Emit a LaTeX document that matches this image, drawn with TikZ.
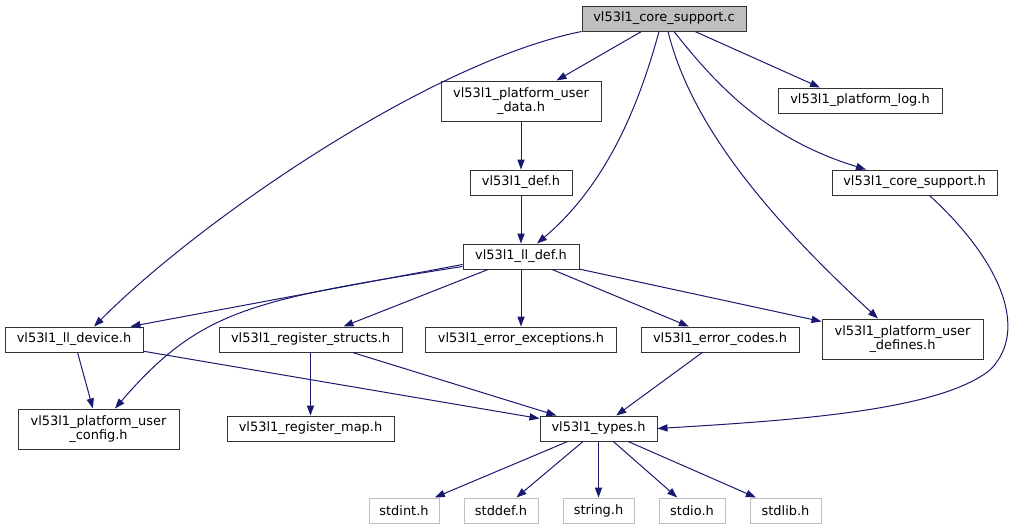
\documentclass[tikz,border=0pt]{standalone}
\usepackage{fontspec}
\setmainfont{DejaVu Sans}
\usetikzlibrary{calc,arrows.meta,positioning}
\definecolor{edgeblue}{RGB}{25,25,112}
\begin{document}
\begin{tikzpicture}[x=0.75pt,y=-0.75pt,
  file/.style={draw=black!80,line width=0.75pt,inner sep=0pt,minimum height=18.75pt,align=center,font=\fontsize{9.7}{10.8}\selectfont},
  sysfile/.style={file,draw=gray!50},
  dep/.style={draw=edgeblue,line width=0.75pt,-{Triangle[length=7.5pt,width=5.4pt]}}]
\useasboundingbox (0,0) rectangle (1014,529);
\node[file,fill=gray!50,minimum width=123pt] (corec) at (664,18.5) {vl53l1\_core\_support.c};
\node[file,minimum width=120pt,minimum height=30pt] (pudata) at (521,101) {vl53l1\_platform\_user\\\_data.h};
\node[file,minimum width=76.5pt] (def) at (521,182.5) {vl53l1\_def.h};
\node[file,minimum width=87pt] (lldef) at (521,256.5) {vl53l1\_ll\_def.h};
\node[file,minimum width=123pt] (plog) at (860,100.5) {vl53l1\_platform\_log.h};
\node[file,minimum width=123.75pt] (coreh) at (914.5,182.5) {vl53l1\_core\_support.h};
\node[file,minimum width=103.5pt] (lldev) at (74,339.5) {vl53l1\_ll\_device.h};
\node[file,minimum width=137.25pt] (regstr) at (310.5,339.5) {vl53l1\_register\_structs.h};
\node[file,minimum width=143.25pt] (errexc) at (521,339.5) {vl53l1\_error\_exceptions.h};
\node[file,minimum width=118.5pt] (errcod) at (720,339.5) {vl53l1\_error\_codes.h};
\node[file,minimum width=120.75pt,minimum height=30pt] (pudef) at (902.5,339) {vl53l1\_platform\_user\\\_defines.h};
\node[file,minimum width=120.75pt,minimum height=30pt] (puconf) at (98.5,429) {vl53l1\_platform\_user\\\_config.h};
\node[file,minimum width=125.25pt] (regmap) at (310.5,428.5) {vl53l1\_register\_map.h};
\node[file,minimum width=87.75pt] (types) at (598.5,428.5) {vl53l1\_types.h};
\node[sysfile,minimum width=52.5pt] (stdint) at (404,510.5) {stdint.h};
\node[sysfile,minimum width=55.5pt] (stddef) at (501,510.5) {stddef.h};
\node[sysfile,minimum width=53.25pt] (string) at (598.5,510.5) {string.h};
\node[sysfile,minimum width=49.5pt] (stdio) at (692,510.5) {stdio.h};
\node[sysfile,minimum width=53.25pt] (stdlib) at (785.5,510.5) {stdlib.h};
\draw[dep] (corec.south west) .. controls (430,62) and (200,220) .. (lldev.33);
\draw[dep] (corec) -- (pudata);
\draw[dep] ($(corec.south)+(-5,0)$) .. controls (635,120) and (600,190) .. ($(lldef.north)+(16,0)$);
\draw[dep] ($(corec.south)+(4,0)$) .. controls (690,120) and (760,210) .. ($(pudef.north)+(-24.5,0)$);
\draw[dep] ($(corec.south)+(10,0)$) .. controls (720,90) and (770,140) .. ($(coreh.north)+(-48.5,0)$);
\draw[dep] ($(corec.south)+(31,0)$) -- ($(plog.north)+(-40,0)$);
\draw[dep] (pudata) -- (def);
\draw[dep] (def) -- (lldef);
\draw[dep] ($(lldef.west)+(0,8)$) -- ($(lldev.north east)+(-13,0)$);
\draw[dep] ($(lldef.west)+(0,10)$) .. controls (250,300) and (200,310) .. ($(puconf.north)+(16.5,0)$);
\draw[dep] (lldef) -- (regstr);
\draw[dep] (lldef) -- (errexc);
\draw[dep] (lldef) -- (errcod);
\draw[dep] (lldef) -- (pudef);
\draw[dep] (lldev) -- (puconf);
\draw[dep] (lldev) -- (types);
\draw[dep] (regstr) -- (types);
\draw[dep] (regstr) -- (regmap);
\draw[dep] (errcod) -- (types);
\draw[dep] ($(coreh.south)+(15,0)$) .. controls (1000,260) and (1030,330) .. (990,370) .. controls (940,410) and (800,420) .. (types.east);
\foreach \s in {stdint,stddef,string,stdio,stdlib}
  \draw[dep] (types) -- (\s);
\end{tikzpicture}
\end{document}
